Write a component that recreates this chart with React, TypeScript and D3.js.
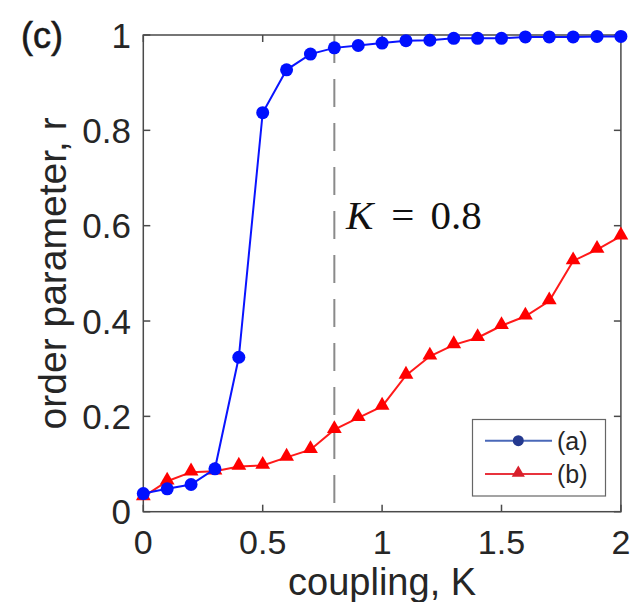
import React from "react";
import * as d3 from "d3";

const couplingK = [0, 0.1, 0.2, 0.3, 0.4, 0.5, 0.6, 0.7, 0.8, 0.9, 1.0, 1.1, 1.2, 1.3, 1.4, 1.5, 1.6, 1.7, 1.8, 1.9, 2.0];
const seriesA = [0.038, 0.048, 0.057, 0.09, 0.324, 0.837, 0.927, 0.96, 0.973, 0.978, 0.983, 0.988, 0.989, 0.993, 0.993, 0.993, 0.996, 0.996, 0.996, 0.997, 0.997];
const seriesB = [0.031, 0.064, 0.083, 0.085, 0.095, 0.097, 0.114, 0.13, 0.172, 0.197, 0.221, 0.286, 0.326, 0.35, 0.365, 0.39, 0.41, 0.442, 0.526, 0.55, 0.578];
const xTicks = [0, 0.5, 1, 1.5, 2];
const yTicks = [0, 0.2, 0.4, 0.6, 0.8, 1];
const xTickLabels = ["0", "0.5", "1", "1.5", "2"];
const yTickLabels = ["0", "0.2", "0.4", "0.6", "0.8", "1"];
const legendLabels = ["(a)", "(b)"];
const criticalK = 0.8;

const W = 644;
const H = 602;
const L = 143.3, R = 620.9, T = 35, B = 511.7;

const SANS = "'Liberation Sans', Arial, Helvetica, sans-serif";
const SERIF = "'Liberation Serif', 'Times New Roman', serif";
const TEXT = "#262626";

export default function App() {
  const x = d3.scaleLinear().domain([0, 2]).range([L, R]);
  const y = d3.scaleLinear().domain([0, 1]).range([B, T]);
  const line = d3.line<[number, number]>().x((d) => x(d[0])).y((d) => y(d[1]));
  const ptsA: [number, number][] = couplingK.map((k, i) => [k, seriesA[i]]);
  const ptsB: [number, number][] = couplingK.map((k, i) => [k, seriesB[i]]);
  const tri = d3.symbol().type(d3.symbolTriangle).size(95)() as string;
  const triLeg = d3.symbol().type(d3.symbolTriangle).size(75)() as string;
  const tickLen = 7;
  const axisColor = "#4a4a4a";

  return (
    <svg width={W} height={H} style={{ position: "absolute", left: 0, top: 0, background: "#fff" }}>
      {/* dashed K = 0.8 line */}
      <line x1={x(criticalK)} x2={x(criticalK)} y1={T} y2={B} stroke="#8a8a8a" strokeWidth={2} strokeDasharray="28,16" />

      {/* axes box */}
      <rect x={L} y={T} width={R - L} height={B - T} fill="none" stroke={axisColor} strokeWidth={1.5} />
      {xTicks.map((t) => (
        <g key={"xt" + t}>
          <line x1={x(t)} x2={x(t)} y1={B} y2={B - tickLen} stroke={axisColor} strokeWidth={1.5} />
          <line x1={x(t)} x2={x(t)} y1={T} y2={T + tickLen} stroke={axisColor} strokeWidth={1.5} />
        </g>
      ))}
      {yTicks.map((t) => (
        <g key={"yt" + t}>
          <line x1={L} x2={L + tickLen} y1={y(t)} y2={y(t)} stroke={axisColor} strokeWidth={1.5} />
          <line x1={R} x2={R - tickLen} y1={y(t)} y2={y(t)} stroke={axisColor} strokeWidth={1.5} />
        </g>
      ))}
      {xTicks.map((t, i) => (
        <text key={"xl" + t} x={x(t)} y={554} textAnchor="middle" fontFamily={SANS} fontSize={34} fill={TEXT}>
          {xTickLabels[i]}
        </text>
      ))}
      {yTicks.map((t, i) => (
        <text key={"yl" + t} x={131} y={y(t) + 12.5} textAnchor="end" fontFamily={SANS} fontSize={35} fill={TEXT}>
          {yTickLabels[i]}
        </text>
      ))}

      {/* axis labels */}
      <text x={(L + R) / 2} y={595} textAnchor="middle" fontFamily={SANS} fontSize={38} fill={TEXT}>
        coupling, K
      </text>
      <text transform={`translate(66,${(T + B) / 2}) rotate(-90)`} textAnchor="middle" fontFamily={SANS} fontSize={39} fill={TEXT}>
        order parameter, r
      </text>
      <text x={21} y={48} fontFamily={SANS} fontSize={36} fill="#1a1a1a" stroke="#1a1a1a" strokeWidth={0.6}>
        (c)
      </text>

      {/* annotation */}
      <text x={346} y={229} fontFamily={SERIF} fontSize={41} fill="#111">
        <tspan fontStyle="italic">K</tspan>
        <tspan dx={18}>=</tspan>
        <tspan dx={16}>0.8</tspan>
      </text>

      {/* series (b) */}
      <path d={line(ptsB) ?? ""} fill="none" stroke="#ff1a1a" strokeWidth={2} />
      {ptsB.map((p, i) => (
        <path key={"b" + i} d={tri} transform={`translate(${x(p[0])},${y(p[1]) - 1})`} fill="#ff0000" />
      ))}

      {/* series (a) */}
      <path d={line(ptsA) ?? ""} fill="none" stroke="#0a14ff" strokeWidth={2} />
      {ptsA.map((p, i) => (
        <circle key={"a" + i} cx={x(p[0])} cy={y(p[1])} r={6.5} fill="#0010ff" />
      ))}

      {/* legend */}
      <rect x={472.5} y={419.5} width={133} height={76.5} fill="#fff" stroke="#666" strokeWidth={1.2} />
      <line x1={485} x2={552} y1={440.7} y2={440.7} stroke="#4a68b8" strokeWidth={2} />
      <circle cx={518.3} cy={440.7} r={5.5} fill="#24398f" />
      <text x={557} y={449.5} fontFamily={SANS} fontSize={25} fill={TEXT}>
        {legendLabels[0]}
      </text>
      <line x1={485} x2={552} y1={474} y2={474} stroke="#e8323c" strokeWidth={2} />
      <path d={triLeg} transform="translate(518.3,473)" fill="#d8202c" />
      <text x={557} y={482.8} fontFamily={SANS} fontSize={25} fill={TEXT}>
        {legendLabels[1]}
      </text>
    </svg>
  );
}
